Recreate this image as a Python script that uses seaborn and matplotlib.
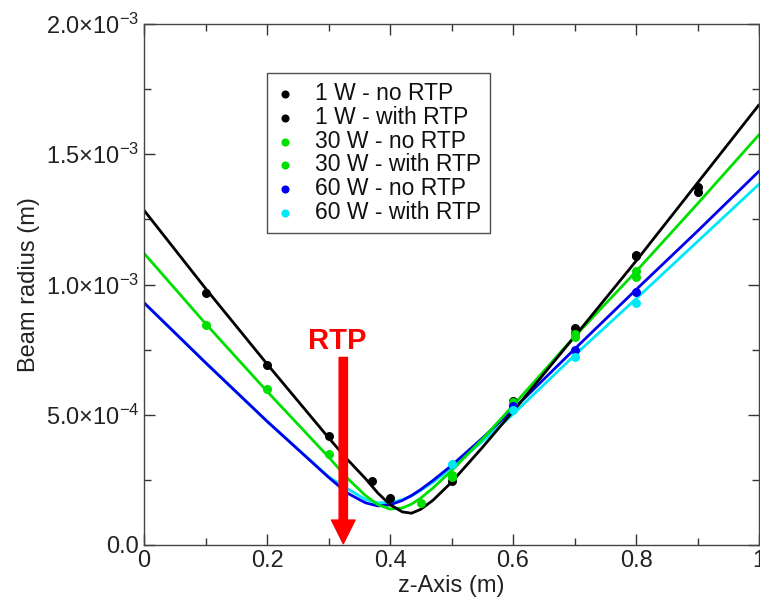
import numpy as np
import pandas as pd
import matplotlib
matplotlib.use("Agg")
import matplotlib.pyplot as plt
import seaborn as sns

# Fitted beam radius curves (units of 1e-3 m)
zLine = [0.0, 0.1, 0.2, 0.3, 0.33, 0.36, 0.38, 0.4, 0.42, 0.435, 0.45, 0.47,
         0.5, 0.55, 0.6, 0.7, 0.8, 0.9, 1.0]
w1W   = [1.285, 0.985, 0.695, 0.412, 0.33, 0.255, 0.20, 0.155, 0.127, 0.122, 0.137, 0.172,
         0.241, 0.374, 0.513, 0.80, 1.09, 1.39, 1.69]
w30W  = [1.12, 0.85, 0.59, 0.338, 0.258, 0.19, 0.155, 0.138, 0.142, 0.157, 0.18, 0.219,
         0.285, 0.406, 0.535, 0.80, 1.05, 1.31, 1.575]
w60W  = [0.93, 0.70, 0.475, 0.26, 0.20, 0.162, 0.15, 0.154, 0.171, 0.19, 0.213, 0.248,
         0.305, 0.41, 0.52, 0.752, 0.98, 1.205, 1.435]
w60WR = [0.93, 0.70, 0.475, 0.262, 0.217, 0.175, 0.162, 0.162, 0.174, 0.188, 0.21, 0.241,
         0.296, 0.397, 0.502, 0.728, 0.945, 1.165, 1.385]

# Measured points (units of 1e-3 m)
z1W     = [0.1, 0.2, 0.3, 0.37, 0.4, 0.5, 0.6, 0.7, 0.8, 0.9]
p1W     = [0.967, 0.69, 0.417, 0.246, 0.182, 0.246, 0.553, 0.833, 1.11, 1.375]
z1WR    = [0.6, 0.7, 0.8, 0.9]
p1WR    = [0.54, 0.815, 1.115, 1.356]
z30W    = [0.1, 0.2, 0.3, 0.45, 0.5, 0.6, 0.7, 0.8]
p30W    = [0.845, 0.598, 0.348, 0.163, 0.27, 0.55, 0.81, 1.03]
z30WR   = [0.5, 0.6, 0.7, 0.8]
p30WR   = [0.26, 0.54, 0.80, 1.05]
z60W    = [0.6, 0.7, 0.8]
p60W    = [0.534, 0.75, 0.97]
z60WR   = [0.5, 0.6, 0.7, 0.8]
p60WR   = [0.31, 0.52, 0.72, 0.93]

labels = ["1 W - no RTP", "1 W - with RTP", "30 W - no RTP", "30 W - with RTP",
          "60 W - no RTP", "60 W - with RTP"]
colors = ["#000000", "#000000", "#00e000", "#00e000", "#0000ee", "#00e8f8"]

rtpZ = 0.324

sns.set_theme(style="ticks")
plt.rcParams["font.family"] = ["Liberation Sans", "DejaVu Sans"]
plt.rcParams["mathtext.fontset"] = "custom"
plt.rcParams["mathtext.rm"] = "Liberation Sans"
plt.rcParams["mathtext.it"] = "Liberation Sans:italic"
plt.rcParams["mathtext.bf"] = "Liberation Sans:bold"

fig = plt.figure(figsize=(7.6, 6.01), dpi=100)
ax = fig.add_axes([0.1895, 0.0932, 0.8092, 0.8668])

lines = pd.DataFrame({"z": zLine, "w1": w1W, "w30": w30W, "w60": w60W, "w60r": w60WR})
for col, c in [("w60r", colors[5]), ("w60", colors[4]), ("w30", colors[2]), ("w1", colors[0])]:
    sns.lineplot(x=lines["z"], y=lines[col] * 1e-3, color=c, linewidth=2.0,
                 estimator=None, sort=False, ax=ax, legend=False)

points = [(z1W, p1W), (z1WR, p1WR), (z30W, p30W), (z30WR, p30WR), (z60W, p60W), (z60WR, p60WR)]
for (zs, ps), lab, c in zip(points, labels, colors):
    sns.scatterplot(x=np.array(zs), y=np.array(ps) * 1e-3, color=c, s=42, linewidth=0,
                    label=lab, ax=ax, zorder=3)

# RTP arrow
ax.annotate("", xy=(rtpZ, 0.005e-3), xytext=(rtpZ, 0.72e-3),
            arrowprops=dict(facecolor="#ff0000", edgecolor="#ff0000", width=6,
                            headwidth=17, headlength=17, shrink=0.0))
ax.text(rtpZ - 0.01, 0.785e-3, "RTP", color="#ff0000", fontsize=21, fontweight="bold",
        ha="center", va="center")

ax.set_xlim(0, 1)
ax.set_ylim(0, 2.0e-3)
ax.set_xticks([0, 0.2, 0.4, 0.6, 0.8, 1.0])
ax.set_xticklabels(["0", "0.2", "0.4", "0.6", "0.8", "1"])
ax.set_xticks([0.1, 0.3, 0.5, 0.7, 0.9], minor=True)
ax.set_yticks([0, 0.5e-3, 1.0e-3, 1.5e-3, 2.0e-3])
ax.set_yticklabels(["0.0", r"$\mathregular{5.0{\times}10^{-4}}$", r"$\mathregular{1.0{\times}10^{-3}}$",
                    r"$\mathregular{1.5{\times}10^{-3}}$", r"$\mathregular{2.0{\times}10^{-3}}$"])
ax.set_yticks([0.25e-3, 0.75e-3, 1.25e-3, 1.75e-3], minor=True)
ax.tick_params(which="both", direction="in", top=True, right=True, colors="#333333",
               labelcolor="#222222", labelsize=17)
ax.tick_params(which="major", length=8, width=1)
ax.tick_params(which="minor", length=5, width=1)
for s in ax.spines.values():
    s.set_color("#444444")
    s.set_linewidth(1.0)

ax.set_xlabel("z-Axis (m)", fontsize=17, color="#222222", labelpad=2)
ax.set_ylabel("Beam radius (m)", fontsize=17, color="#222222", labelpad=4)

leg = ax.legend(loc="upper left", bbox_to_anchor=(0.2, 0.906), borderaxespad=0.0,
                fontsize=16.5, frameon=True, fancybox=False, edgecolor="#222222",
                labelspacing=0.03, handletextpad=0.9, borderpad=0.4, handlelength=0.8,
                markerscale=0.9)
leg.get_frame().set_linewidth(1.0)
for t in leg.get_texts():
    t.set_color("#111111")

fig.savefig("out.png", dpi=100)
